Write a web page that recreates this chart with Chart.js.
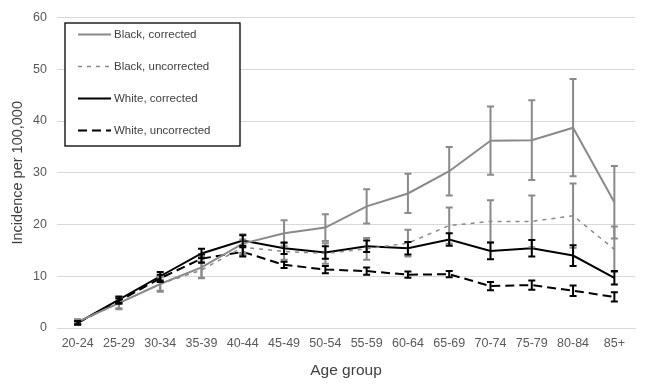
<!DOCTYPE html>
<html>
<head>
<meta charset="utf-8">
<script src="https://cdn.jsdelivr.net/npm/chart.js@4/dist/chart.umd.min.js"></script>
<style>
  body { margin: 0; background: #fff; }
  #wrap { width: 645px; height: 388px; }
</style>
</head>
<body>
<div id="wrap"><canvas id="chart" width="645" height="388"></canvas></div>
<script>
const ageGroups = ["20-24", "25-29", "30-34", "35-39", "40-44", "45-49", "50-54",
  "55-59", "60-64", "65-69", "70-74", "75-79", "80-84", "85+"];
const yTicks = [0, 10, 20, 30, 40, 50, 60];

const blackCorrected = [1.2, 4.8, 8.5, 11.7, 16.3, 18.3, 19.4, 23.5, 26.0, 30.3, 36.2, 36.3, 38.7, 24.3];
const blackCorrectedErr = [0.5, 1.2, 1.5, 2.0, 1.8, 2.5, 2.6, 3.3, 3.8, 4.7, 6.6, 7.7, 9.4, 7.0];
const blackUncorrected = [1.2, 4.8, 8.5, 11.2, 15.6, 14.8, 14.4, 15.3, 16.4, 19.8, 20.6, 20.6, 21.7, 15.2];
const blackUncorrectedErr = [0.4, 1.0, 1.3, 1.6, 1.5, 1.6, 2.0, 2.1, 2.6, 3.5, 4.1, 5.0, 6.2, 4.4];
const whiteCorrected = [1.0, 5.5, 10.0, 14.4, 16.9, 15.4, 14.6, 15.8, 15.4, 17.1, 14.9, 15.4, 14.0, 9.7];
const whiteCorrectedErr = [0.3, 0.6, 0.8, 0.9, 1.0, 1.1, 1.2, 1.1, 1.2, 1.2, 1.6, 1.6, 2.0, 1.3];
const whiteUncorrected = [1.0, 5.2, 9.6, 13.4, 14.7, 12.2, 11.3, 11.0, 10.3, 10.4, 8.1, 8.3, 7.2, 6.0];
const whiteUncorrectedErr = [0.3, 0.5, 0.7, 0.8, 0.9, 0.6, 0.7, 0.7, 0.6, 0.6, 0.8, 0.9, 1.0, 0.9];

const gray = "#8a8a8a";
const font = "'Liberation Sans', Arial, sans-serif";

// error bars drawn on top of the lines, using the chart's own scales
const errorBars = {
  id: "errorBars",
  afterDatasetsDraw(chart) {
    const ctx = chart.ctx;
    const y = chart.scales.y;
    chart.data.datasets.forEach((ds, i) => {
      const meta = chart.getDatasetMeta(i);
      ctx.save();
      ctx.strokeStyle = ds.borderColor;
      ctx.lineWidth = ds.errWidth;
      meta.data.forEach((pt, j) => {
        const v = ds.data[j], e = ds.err[j];
        const top = y.getPixelForValue(v + e);
        const bot = y.getPixelForValue(v - e);
        ctx.beginPath();
        ctx.moveTo(pt.x, top); ctx.lineTo(pt.x, bot);
        ctx.moveTo(pt.x - 3.5, top); ctx.lineTo(pt.x + 3.5, top);
        ctx.moveTo(pt.x - 3.5, bot); ctx.lineTo(pt.x + 3.5, bot);
        ctx.stroke();
      });
      ctx.restore();
    });
  }
};

// boxed legend inside the plot, top-left
const boxLegend = {
  id: "boxLegend",
  afterDraw(chart) {
    const ctx = chart.ctx;
    const x0 = 65, y0 = 23, w = 175, h = 123;
    ctx.save();
    ctx.fillStyle = "#fff";
    ctx.fillRect(x0, y0, w, h);
    ctx.strokeStyle = "#000";
    ctx.lineWidth = 1.3;
    ctx.strokeRect(x0, y0, w, h);
    chart.data.datasets.forEach((ds, i) => {
      const yy = y0 + 11.5 + i * 32;
      ctx.strokeStyle = ds.borderColor;
      ctx.lineWidth = ds.borderWidth;
      ctx.setLineDash(ds.borderDash || []);
      ctx.beginPath();
      ctx.moveTo(78, yy); ctx.lineTo(111, yy);
      ctx.stroke();
      ctx.setLineDash([]);
      ctx.fillStyle = "#404040";
      ctx.font = "11.5px " + font;
      ctx.textBaseline = "middle";
      ctx.fillText(ds.label, 114, yy);
    });
    ctx.restore();
  }
};

new Chart(document.getElementById("chart"), {
  type: "line",
  data: {
    labels: ageGroups,
    datasets: [
      { label: "Black, corrected", data: blackCorrected, err: blackCorrectedErr,
        borderColor: gray, borderWidth: 2, errWidth: 2 },
      { label: "Black, uncorrected", data: blackUncorrected, err: blackUncorrectedErr,
        borderColor: gray, borderWidth: 1.5, borderDash: [4, 5], errWidth: 2 },
      { label: "White, corrected", data: whiteCorrected, err: whiteCorrectedErr,
        borderColor: "#000", borderWidth: 2, errWidth: 2 },
      { label: "White, uncorrected", data: whiteUncorrected, err: whiteUncorrectedErr,
        borderColor: "#000", borderWidth: 2, borderDash: [9, 5], errWidth: 2 }
    ]
  },
  options: {
    responsive: false,
    animation: false,
    layout: { padding: { top: 9, right: 10, bottom: 4, left: 6 } },
    elements: { point: { radius: 0 }, line: { tension: 0 } },
    plugins: { legend: { display: false }, tooltip: { enabled: false } },
    scales: {
      x: {
        offset: true,
        grid: { display: false, drawTicks: false },
        border: { color: "#d9d9d9" },
        ticks: { color: "#595959", font: { family: font, size: 12.5 }, padding: 8, maxRotation: 0, autoSkip: false },
        title: { display: true, text: "Age group", color: "#404040", font: { family: font, size: 15.5 }, padding: { top: 4, bottom: 4 } },
        afterFit: (s) => { s.height = 56; }
      },
      y: {
        min: 0, max: 60,
        afterBuildTicks: (s) => { s.ticks = yTicks.map((v) => ({ value: v })); },
        grid: { color: "#d9d9d9", drawTicks: false },
        border: { display: false },
        ticks: { color: "#595959", font: { family: font, size: 12.5 }, padding: 10 },
        title: { display: true, text: "Incidence per 100,000", color: "#404040", font: { family: font, size: 14.5 }, padding: 3 },
        afterFit: (s) => { s.width = 51; }
      }
    }
  },
  plugins: [errorBars, boxLegend]
});
</script>
</body>
</html>
